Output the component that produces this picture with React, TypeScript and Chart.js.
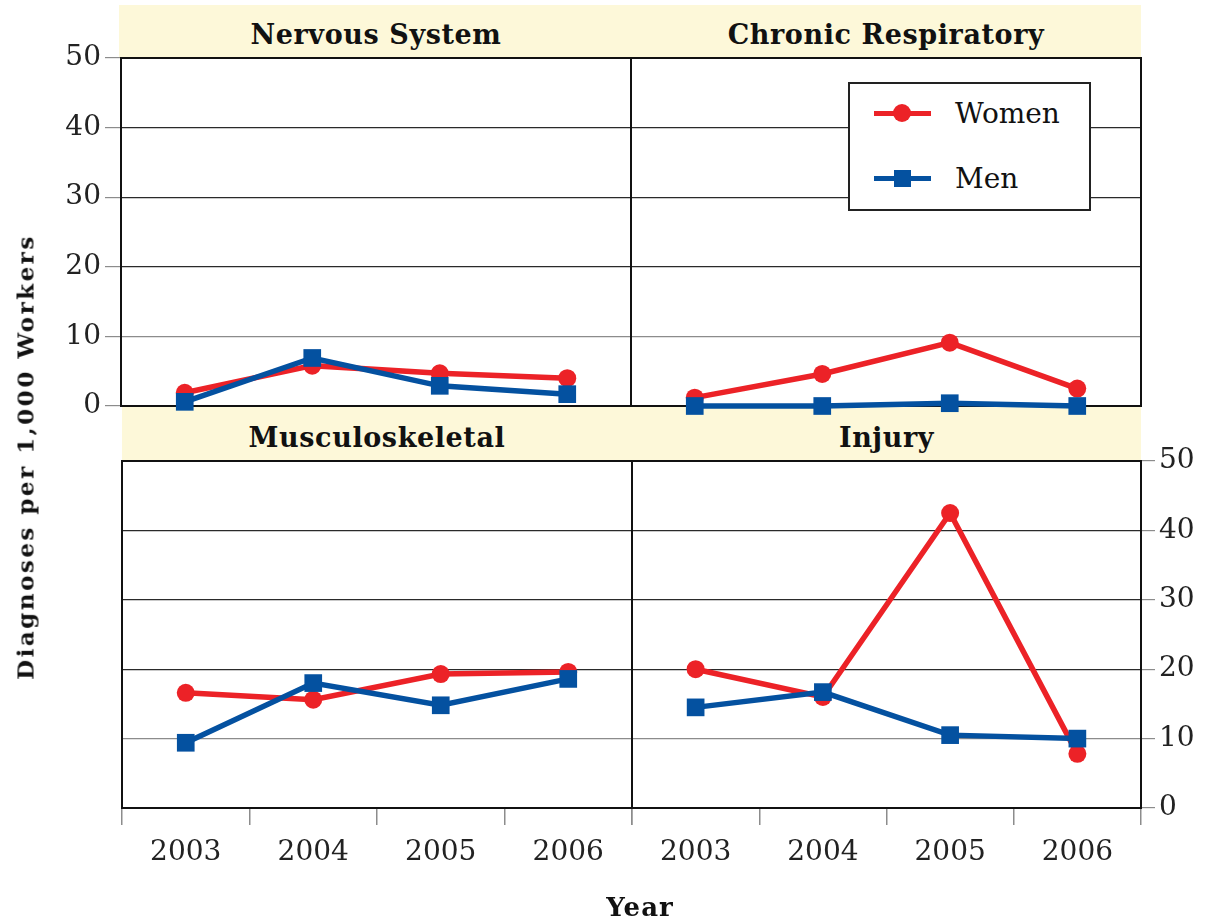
import React, { useEffect, useRef } from "react";
import { Chart, registerables } from "chart.js";

Chart.register(...registerables);

const years = ["2003", "2004", "2005", "2006"];
const yTicks = [0, 10, 20, 30, 40, 50];

const nervousWomen = [1.9, 5.8, 4.7, 4.0];
const nervousMen = [0.6, 6.9, 2.9, 1.7];
const respWomen = [1.2, 4.6, 9.1, 2.5];
const respMen = [0.0, 0.0, 0.4, 0.0];
const muscWomen = [16.6, 15.6, 19.3, 19.6];
const muscMen = [9.4, 18.0, 14.8, 18.6];
const injuryWomen = [20.0, 16.0, 42.5, 7.8];
const injuryMen = [14.5, 16.7, 10.5, 10.0];

const RED = "#ec2227";
const BLUE = "#0451a0";
const FONT = "'DejaVu Serif', serif";

const boxPlugin = {
  id: "box",
  beforeDatasetsDraw(chart: any) {
    const { ctx, chartArea } = chart;
    ctx.save();
    ctx.strokeStyle = "#111";
    ctx.lineWidth = 2;
    ctx.strokeRect(chartArea.left, chartArea.top, chartArea.right - chartArea.left, chartArea.bottom - chartArea.top);
    ctx.restore();
  },
};

type PanelProps = {
  left: number;
  top: number;
  width: number;
  height: number;
  women: number[];
  men: number[];
  padding: { left: number; right: number; top: number; bottom: number };
  yMode: "left" | "right" | "none";
  showX: boolean;
  yWidth: number;
};

function Panel(p: PanelProps) {
  const ref = useRef<HTMLCanvasElement>(null);
  useEffect(() => {
    if (!ref.current) return;
    const gridColor = (c: any) => (c.tick && c.tick.value === 10 ? "#8c8c8c" : "#2a2a2a");
    const chart = new Chart(ref.current, {
      type: "line",
      data: {
        labels: years,
        datasets: [
          {
            label: "Men",
            data: p.men,
            borderColor: BLUE,
            backgroundColor: BLUE,
            borderWidth: 5.5,
            pointStyle: "rect",
            pointRadius: 12.5,
            pointBorderWidth: 0,
            order: 0,
            clip: false as any,
          },
          {
            label: "Women",
            data: p.women,
            borderColor: RED,
            backgroundColor: RED,
            borderWidth: 5.5,
            pointStyle: "circle",
            pointRadius: 9,
            pointBorderWidth: 0,
            order: 1,
            clip: false as any,
          },
        ],
      },
      options: {
        responsive: false,
        maintainAspectRatio: false,
        animation: false,
        events: [],
        layout: { padding: p.padding, autoPadding: false },
        plugins: { legend: { display: false }, tooltip: { enabled: false } },
        scales: {
          x: {
            type: "category",
            offset: true,
            display: p.showX,
            position: "bottom",
            border: { display: false },
            grid: {
              offset: true,
              drawOnChartArea: false,
              drawTicks: true,
              tickLength: 17,
              color: "#8c8c8c",
              lineWidth: 1.5,
            },
            ticks: {
              font: { family: FONT, size: 28 },
              color: "#222",
              padding: 11,
              maxRotation: 0,
            },
            afterFit: (s: any) => {
              s.height = p.showX ? 80 : 0;
            },
          },
          y: {
            type: "linear",
            min: 0,
            max: 50,
            position: p.yMode === "right" ? "right" : "left",
            border: { display: false },
            afterBuildTicks: (s: any) => {
              s.ticks = yTicks.map((v) => ({ value: v }));
            },
            grid: {
              color: gridColor,
              lineWidth: 1.2,
              drawTicks: p.yMode !== "none",
              tickLength: p.yMode === "right" ? 14 : 16,
              tickColor: "#8c8c8c",
            } as any,
            ticks: {
              display: p.yMode !== "none",
              font: { family: FONT, size: 28 },
              color: "#222",
              padding: 4,
            },
            afterFit: (s: any) => {
              s.width = p.yWidth;
            },
          },
        },
      } as any,
      plugins: [boxPlugin],
    });
    return () => chart.destroy();
  }, []);
  return (
    <canvas
      ref={ref}
      width={p.width}
      height={p.height}
      style={{ position: "absolute", left: p.left, top: p.top, width: p.width, height: p.height }}
    />
  );
}

const headerText: React.CSSProperties = {
  position: "absolute",
  display: "flex",
  alignItems: "center",
  justifyContent: "center",
  fontFamily: FONT,
  fontWeight: "bold",
  fontSize: 27,
  letterSpacing: 0.6,
  color: "#111",
  whiteSpace: "nowrap",
};

export default function App() {
  return (
    <div
      style={{
        position: "absolute",
        left: 0,
        top: 0,
        width: 1207,
        height: 922,
        background: "#fff",
        overflow: "hidden",
      }}
    >
      {/* header strips */}
      <div style={{ position: "absolute", left: 119, top: 5, width: 1022, height: 53, background: "#fdf8d9" }} />
      <div style={{ position: "absolute", left: 122, top: 407, width: 1019, height: 54, background: "#fdf8d9" }} />
      <div style={{ ...headerText, left: 121, top: 8, width: 510, height: 53 }}>Nervous System</div>
      <div style={{ ...headerText, left: 631, top: 8, width: 510, height: 53 }}>Chronic Respiratory</div>
      <div style={{ ...headerText, left: 122, top: 410, width: 510, height: 54 }}>Musculoskeletal</div>
      <div style={{ ...headerText, left: 632, top: 410, width: 509, height: 54 }}>Injury</div>

      <Panel
        left={0}
        top={0}
        width={640}
        height={440}
        women={nervousWomen}
        men={nervousMen}
        padding={{ left: 0, right: 9, top: 58, bottom: 34 }}
        yMode="left"
        showX={false}
        yWidth={121}
      />
      <Panel
        left={620}
        top={0}
        width={587}
        height={440}
        women={respWomen}
        men={respMen}
        padding={{ left: 11, right: 66, top: 58, bottom: 34 }}
        yMode="none"
        showX={false}
        yWidth={0}
      />
      <Panel
        left={0}
        top={400}
        width={640}
        height={522}
        women={muscWomen}
        men={muscMen}
        padding={{ left: 122, right: 8, top: 61, bottom: 34 }}
        yMode="none"
        showX={true}
        yWidth={0}
      />
      <Panel
        left={620}
        top={400}
        width={587}
        height={522}
        women={injuryWomen}
        men={injuryMen}
        padding={{ left: 12, right: 0, top: 61, bottom: 34 }}
        yMode="right"
        showX={true}
        yWidth={66}
      />

      {/* legend */}
      <div
        style={{
          position: "absolute",
          left: 848,
          top: 82,
          width: 243,
          height: 129,
          border: "2px solid #222",
          boxSizing: "border-box",
          background: "#fff",
        }}
      >
        <div style={{ position: "absolute", left: 24, top: 27, width: 57, height: 5, background: RED }} />
        <div
          style={{ position: "absolute", left: 43, top: 20, width: 18, height: 18, borderRadius: "50%", background: RED }}
        />
        <div
          style={{
            position: "absolute",
            left: 105,
            top: 10,
            fontFamily: FONT,
            fontSize: 28,
            lineHeight: "40px",
            color: "#111",
          }}
        >
          Women
        </div>
        <div style={{ position: "absolute", left: 24, top: 92, width: 57, height: 5, background: BLUE }} />
        <div style={{ position: "absolute", left: 44, top: 86, width: 17, height: 17, background: BLUE }} />
        <div
          style={{
            position: "absolute",
            left: 105,
            top: 75,
            fontFamily: FONT,
            fontSize: 28,
            lineHeight: "40px",
            color: "#111",
          }}
        >
          Men
        </div>
      </div>

      {/* axis titles */}
      <div
        style={{
          position: "absolute",
          left: 25,
          top: 457,
          transform: "translate(-50%, -50%) rotate(-90deg)",
          fontFamily: FONT,
          fontWeight: "bold",
          fontSize: 23,
          letterSpacing: 2.5,
          whiteSpace: "nowrap",
          color: "#111",
        }}
      >
        Diagnoses per 1,000 Workers
      </div>
      <div
        style={{
          position: "absolute",
          left: 640,
          top: 907,
          transform: "translate(-50%, -50%)",
          fontFamily: FONT,
          fontWeight: "bold",
          fontSize: 26,
          letterSpacing: 1,
          whiteSpace: "nowrap",
          color: "#111",
        }}
      >
        Year
      </div>
    </div>
  );
}
